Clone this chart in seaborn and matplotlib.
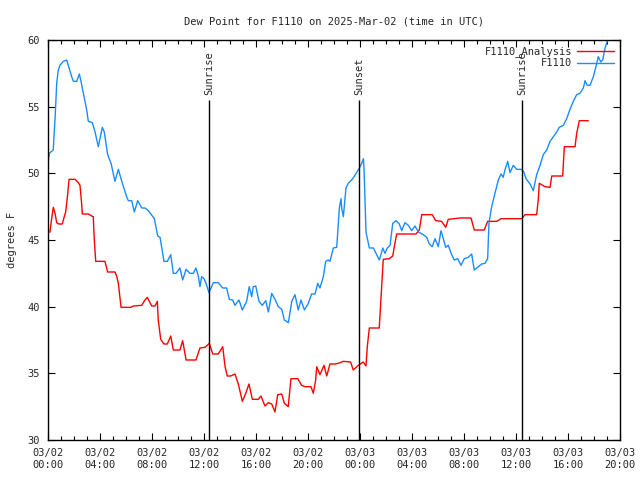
import numpy as np
import pandas as pd
import matplotlib
matplotlib.use("Agg")
import matplotlib.pyplot as plt
import matplotlib.dates as mdates
from matplotlib.lines import Line2D
import seaborn as sns

# ---- data (hours after 2025-03-02 00:00 UTC, degrees F) ----
obs_hours = [0.0, 0.1, 0.4, 0.55, 0.67, 0.79, 0.92, 1.18, 1.44, 1.56, 1.82, 1.95, 2.21, 2.41, 2.54,
             2.72, 2.98, 3.10, 3.41, 3.62, 3.87, 4.18, 4.33, 4.59, 4.85, 5.15, 5.41, 5.72, 6.05, 6.18,
             6.44, 6.64, 6.90, 7.21, 7.46, 7.72, 8.18, 8.44, 8.62, 8.74, 8.92, 9.18, 9.44, 9.64, 9.85,
             10.15, 10.36, 10.62, 10.92, 11.18, 11.38, 11.56, 11.69, 11.82, 12.0, 12.21, 12.38, 12.72,
             13.1, 13.44, 13.74, 13.95, 14.21, 14.38, 14.69, 14.95, 15.28, 15.48, 15.67, 15.79, 15.98,
             16.23, 16.48, 16.75, 16.95, 17.21, 17.46, 17.72, 17.98, 18.18, 18.49, 18.75, 19.0, 19.25,
             19.46, 19.72, 20.02, 20.28, 20.54, 20.75, 20.92, 21.18, 21.36, 21.56, 21.69, 21.95, 22.21,
             22.41, 22.54, 22.59, 22.72, 22.92, 23.1, 23.44, 23.74, 23.95, 24.13, 24.26, 24.31, 24.46,
             24.72, 25.03, 25.23, 25.49, 25.75, 25.92, 26.1, 26.31, 26.52, 26.77, 27.02, 27.21, 27.46,
             27.72, 27.97, 28.23, 28.49, 28.87, 29.13, 29.33, 29.56, 29.77, 30.02, 30.23, 30.41, 30.59,
             30.79, 31.05, 31.25, 31.51, 31.77, 32.02, 32.33, 32.59, 32.79, 33.1, 33.36, 33.62, 33.82,
             33.92, 34.13, 34.38, 34.64, 34.85, 35.02, 35.15, 35.36, 35.54, 35.79, 36.05, 36.44, 36.6,
             36.77, 37.08, 37.33, 37.59, 37.85, 38.1, 38.36, 38.62, 38.87, 39.13, 39.33, 39.64, 39.9,
             40.15, 40.41, 40.67, 40.92, 41.18, 41.31, 41.48, 41.69, 41.95, 42.15, 42.33, 42.52, 42.67,
             42.85, 43.02]
obs_dew = [50.7, 51.5, 51.75, 54.25, 56.75, 57.75, 58.1, 58.4, 58.5, 58.1, 57.25, 56.9, 56.9, 57.45, 56.9,
           56.0, 54.75, 53.9, 53.8, 53.1, 52.0, 53.45, 53.1, 51.4, 50.75, 49.4, 50.3, 49.25, 48.25, 47.95,
           47.95, 47.1, 47.95, 47.4, 47.4, 47.2, 46.6, 45.3, 45.2, 44.5, 43.4, 43.4, 43.9, 42.5, 42.5,
           42.9, 42.0, 42.8, 42.5, 42.5, 42.9, 42.3, 41.5, 42.25, 42.1, 41.6, 41.05, 41.8,
           41.8, 41.4, 41.4, 40.55, 40.5, 40.1, 40.5, 39.75, 40.4, 41.5, 40.75, 41.5, 41.55,
           40.4, 40.1, 40.45, 39.6, 41.0, 40.55, 40.0, 39.8, 39.0, 38.8, 40.4, 40.9, 39.75,
           40.5, 39.75, 40.25, 40.95, 40.95, 41.75, 41.4, 42.25, 43.4, 43.5, 43.4, 44.4, 44.45,
           47.4, 48.1, 47.4, 46.75, 48.9, 49.25, 49.6, 50.05, 50.4, 50.75, 51.1, 50.4, 45.6,
           44.4, 44.4, 44.0, 43.5, 44.4, 44.0, 44.4, 44.6, 46.25, 46.45, 46.2, 45.7, 46.3,
           46.1, 45.7, 46.05, 45.6, 45.4, 45.2, 44.7, 44.5, 45.1, 44.5, 45.7, 45.1, 44.45,
           44.6, 43.9, 43.5, 43.6, 43.1, 43.6, 43.7, 43.95, 42.75, 43.0, 43.2, 43.25, 43.6,
           46.25, 47.5, 48.5, 49.5, 49.95, 49.7, 50.25, 50.9, 50.05, 50.6, 50.3, 50.3, 50.1,
           49.6, 49.2, 48.7, 49.9, 50.6, 51.4, 51.75, 52.4, 52.75, 53.1, 53.45, 53.6, 54.1,
           54.8, 55.4, 55.9, 56.0, 56.4, 56.95, 56.6, 56.6, 57.25, 58.0, 58.75, 58.35, 58.5,
           59.4, 59.9]

ana_hours = [0.0, 0.15, 0.28, 0.41, 0.54, 0.67, 0.85, 1.1, 1.25, 1.36, 1.52, 1.62, 2.08, 2.33, 2.46,
             2.59, 2.64, 3.1, 3.36, 3.48, 3.56, 3.67, 4.38, 4.59, 5.15, 5.28, 5.41, 5.62, 6.38, 6.56,
             7.21, 7.46, 7.64, 7.98, 8.23, 8.41, 8.48, 8.67, 8.92, 9.18, 9.44, 9.64, 10.15, 10.36,
             10.62, 11.38, 11.69, 12.08, 12.41, 12.67, 13.1, 13.44, 13.62, 13.79, 14.05, 14.38, 14.64,
             14.95, 15.21, 15.46, 15.72, 16.18, 16.38, 16.69, 16.95, 17.21, 17.46, 17.67, 17.98, 18.18,
             18.48, 18.69, 19.21, 19.51, 19.77, 20.23, 20.41, 20.59, 20.67, 20.92, 21.23, 21.44, 21.69,
             22.08, 22.33, 22.72, 23.28, 23.48, 23.87, 24.25, 24.46, 24.56, 24.72, 25.48, 25.59, 25.67,
             25.79, 26.25, 26.52, 26.62, 26.82, 28.31, 28.56, 28.75, 29.56, 29.82, 30.28, 30.59, 30.79,
             31.69, 32.54, 32.79, 33.56, 33.82, 34.52, 34.85, 36.44, 36.69, 37.59, 37.72, 37.79, 38.23,
             38.62, 38.75, 39.59, 39.72, 40.54, 40.67, 40.87, 41.56]
ana_dew = [45.6, 45.6, 46.6, 47.45, 47.0, 46.3, 46.2, 46.2, 46.75, 47.1, 48.5, 49.55, 49.55, 49.3, 49.1,
           47.7, 46.95, 46.95, 46.8, 46.75, 45.05, 43.4, 43.4, 42.6, 42.6, 42.3, 41.75, 39.95, 39.95, 40.05,
           40.1, 40.5, 40.7, 40.05, 40.05, 40.4, 39.0, 37.55, 37.2, 37.2, 37.8, 36.75, 36.75, 37.45,
           36.0, 36.0, 36.9, 36.95, 37.25, 36.45, 36.45, 37.0, 35.5, 34.8, 34.8, 34.95, 34.2,
           32.9, 33.5, 34.2, 33.05, 33.05, 33.3, 32.55, 32.8, 32.7, 32.1, 33.4, 33.45, 32.75,
           32.5, 34.6, 34.6, 34.1, 34.0, 34.0, 33.5, 34.5, 35.5, 34.9, 35.6, 34.8, 35.7,
           35.7, 35.75, 35.9, 35.85, 35.25, 35.6, 35.85, 35.55, 37.0, 38.4, 38.4, 40.25, 41.6,
           43.55, 43.6, 43.8, 44.4, 45.45, 45.45, 45.75, 46.9, 46.9, 46.45, 46.4, 45.95, 46.55,
           46.65, 46.65, 45.75, 45.75, 46.4, 46.4, 46.6, 46.6, 46.9, 46.9, 48.1, 49.25, 49.0,
           48.95, 49.8, 49.8, 52.0, 52.0, 53.0, 53.95, 53.95]

sun_hours = [12.38, 23.92, 36.46]
sun_labels = ["Sunrise", "Sunset", "Sunrise"]
series_names = ["F1110_Analysis", "F1110"]
title = "Dew Point for F1110 on 2025-Mar-02 (time in UTC)"
ylabel = "degrees F"

# ---- build frames ----
t0 = pd.Timestamp("2025-03-02 00:00")
df = pd.concat([
    pd.DataFrame({"time": t0 + pd.to_timedelta(ana_hours, unit="h"), "dew": ana_dew,
                  "series": series_names[0]}),
    pd.DataFrame({"time": t0 + pd.to_timedelta(obs_hours, unit="h"), "dew": obs_dew,
                  "series": series_names[1]}),
], ignore_index=True)

sns.set_style("ticks")
mono = "DejaVu Sans Mono"
plt.rcParams["font.family"] = [mono]
plt.rcParams["font.size"] = 7.5

fig = plt.figure(figsize=(6.4, 4.8), dpi=100)
ax = fig.add_axes([48 / 640, 40 / 480, 572 / 640, 400 / 480])

palette = {series_names[0]: "#ff0000", series_names[1]: "#1a8cff"}
sns.lineplot(data=df, x="time", y="dew", hue="series", palette=palette, ax=ax,
             linewidth=1.0, estimator=None, sort=False, legend=False)

# sunrise / sunset markers
for h, lab in zip(sun_hours, sun_labels):
    t = t0 + pd.Timedelta(hours=h)
    ax.vlines(t, 30, 55.5, color="black", linewidth=1.0)
    ax.text(t, 55.9, lab, rotation=90, ha="center", va="bottom", fontsize=7.5, family=mono)

ax.set_xlim(t0, t0 + pd.Timedelta(hours=44))
ax.set_ylim(30, 60)
ax.set_yticks(np.arange(30, 61, 5))
ax.xaxis.set_major_locator(mdates.HourLocator(byhour=[0, 4, 8, 12, 16, 20]))
ax.xaxis.set_minor_locator(mdates.HourLocator())
ax.xaxis.set_major_formatter(mdates.DateFormatter("%m/%d\n%H:%M"))
ax.tick_params(axis="both", which="both", direction="in", top=True, right=True,
               labelsize=7.5, width=0.8, color="black")
ax.tick_params(axis="both", which="major", length=5, pad=6)
ax.tick_params(axis="x", which="minor", length=3)
for sp in ax.spines.values():
    sp.set_linewidth(1.0)
    sp.set_color("black")
ax.set_xlabel("")
ax.set_ylabel(ylabel, fontsize=7.5, labelpad=7)
ax.set_title(title, fontsize=7.5, pad=11)

# legend (gnuplot style: text, then line sample)
handles = [Line2D([], [], color=palette[n], linewidth=1.0) for n in series_names]
leg = ax.legend(handles, series_names, loc="upper right", frameon=False, markerfirst=False,
                handlelength=3.5, handletextpad=0.5, borderaxespad=0.2, labelspacing=0.1,
                fontsize=7.5)

fig.savefig("out.png", dpi=100)
